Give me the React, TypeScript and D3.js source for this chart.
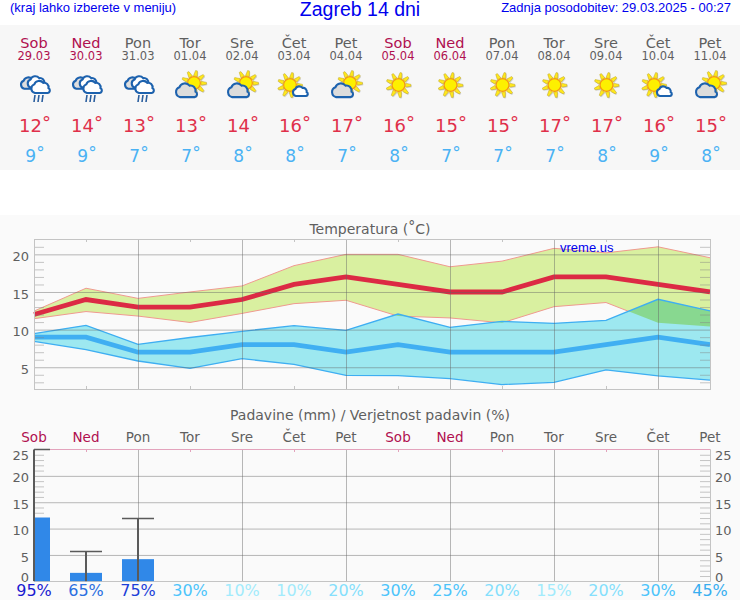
import { useEffect, useRef } from 'react'
import * as d3 from 'd3'

const dayNames = ['Sob', 'Ned', 'Pon', 'Tor', 'Sre', 'Čet', 'Pet', 'Sob', 'Ned', 'Pon', 'Tor', 'Sre', 'Čet', 'Pet']
const dates = ['29.03', '30.03', '31.03', '01.04', '02.04', '03.04', '04.04', '05.04', '06.04', '07.04', '08.04', '09.04', '10.04', '11.04']
const icons = ['rain', 'rain', 'rain', 'cloudsun', 'cloudsun', 'suncloud', 'cloudsun', 'sun', 'sun', 'sun', 'sun', 'sun', 'suncloud', 'cloudsun']

const tempHigh = [12, 14, 13, 13, 14, 16, 17, 16, 15, 15, 17, 17, 16, 15]
const tempLow = [9, 9, 7, 7, 8, 8, 7, 8, 7, 7, 7, 8, 9, 8]
const highTop = [12.46, 15.5, 14.15, 15, 15.8, 18.5, 20, 20, 18.35, 19.1, 20.8, 20.2, 21, 19.55]
const highBottom = [11.45, 12.4, 11.8, 10.95, 12.15, 13.45, 13.9, 11.8, 11.55, 10.9, 13.05, 13.6, 10.9, 10.4]
const lowTop = [9.47, 10.57, 8.05, 8.95, 9.77, 10.53, 9.9, 12.07, 10.3, 11.1, 10.84, 11.24, 14.03, 12.5]
const lowBottom = [8.44, 7.34, 5.83, 4.85, 6.14, 5.38, 3.92, 3.88, 3.5, 2.7, 3.0, 4.65, 3.85, 3.3]

const precip = [12.1, 1.6, 4.2]
const precipMax = [25, 5.65, 11.9]
const probability = [95, 65, 75, 30, 10, 10, 20, 30, 25, 20, 15, 20, 30, 45]

const tempTicks = [5, 10, 15, 20]
const rainTicks = [0, 5, 10, 15, 20, 25]

const FONT = '"DejaVu Sans", sans-serif'
const HEAD_FONT = '"Liberation Sans", Arial, sans-serif'
const WEEKEND = '#b0104f'
const GREY = '#5f5f5f'

const probColor = (p: number) => {
  if (p >= 90) return '#1a1ad0'
  if (p >= 70) return '#1c3fd8'
  if (p >= 60) return '#2a6fe0'
  if (p >= 45) return '#38aef0'
  if (p >= 25) return '#4cc4fa'
  if (p >= 20) return '#85dffc'
  return '#a2ebfc'
}

type Sel = d3.Selection<SVGGElement, unknown, null, undefined>

const CLOUD = 'M-8,6 a6,6 0 0 1 -1,-11.5 a7,7 0 0 1 12,-2 a6,6 0 0 1 7,7 a3.5,3.5 0 0 1 -1,6.5 z'

function drawCloud(g: Sel, x: number, y: number, s: number, fill: string) {
  g.append('path')
    .attr('d', CLOUD)
    .attr('transform', `translate(${x + 0.8},${y + 1}) scale(${s})`)
    .attr('fill', '#888')
    .attr('opacity', 0.3)
  g.append('path')
    .attr('d', CLOUD)
    .attr('transform', `translate(${x},${y}) scale(${s})`)
    .attr('fill', fill)
    .attr('stroke', '#1f62ae')
    .attr('stroke-width', 2.1 / s)
}

function drawSun(g: Sel, x: number, y: number) {
  const sun = g.append('g').attr('transform', `translate(${x},${y})`)
  d3.range(9).forEach((i) => {
    const a = (i * 2 * Math.PI) / 9 - Math.PI / 2 + 0.2
    const c = Math.cos(a)
    const s = Math.sin(a)
    const pts = [
      [7 * c - 2 * s, 7 * s + 2 * c],
      [12.5 * c - 0.9 * s, 12.5 * s + 0.9 * c],
      [12.5 * c + 0.9 * s, 12.5 * s - 0.9 * c],
      [7 * c + 2 * s, 7 * s - 2 * c],
    ]
    sun.append('polygon')
      .attr('points', pts.map((p) => `${p[0] + 0.8},${p[1] + 1}`).join(' '))
      .attr('fill', '#777')
      .attr('opacity', 0.3)
    sun.append('polygon')
      .attr('points', pts.map((p) => p.join(',')).join(' '))
      .attr('fill', '#ffe81a')
      .attr('stroke', '#b8a030')
      .attr('stroke-width', 0.5)
  })
  sun.append('circle')
    .attr('r', 6.4)
    .attr('fill', '#fdf000')
    .attr('stroke', '#f59a10')
    .attr('stroke-width', 1.2)
}

function drawIcon(g: Sel, kind: string) {
  if (kind === 'sun') {
    drawSun(g, 0.5, -1)
  } else if (kind === 'cloudsun') {
    drawSun(g, 4, -3)
    drawCloud(g, -3, 6, 0.85, '#dcdcdc')
  } else if (kind === 'suncloud') {
    drawSun(g, -4, -1)
    drawCloud(g, 6.7, 6.4, 0.6, '#ffffff')
  } else {
    drawCloud(g, -4, -1.5, 0.7, '#dedede')
    drawCloud(g, 3, -2.5, 0.72, '#ffffff')
    drawCloud(g, 7, 2.5, 0.75, '#ffffff')
    d3.range(3).forEach((i) => {
      g.append('line')
        .attr('x1', 1 + i * 4)
        .attr('x2', 0 + i * 4)
        .attr('y1', 9)
        .attr('y2', 16)
        .attr('stroke', '#2a5f9e')
        .attr('stroke-width', 1.6)
    })
  }
}

export default function App() {
  const svgRef = useRef<SVGSVGElement>(null)

  useEffect(() => {
    if (!svgRef.current) return
    const svg = d3.select(svgRef.current)
    svg.selectAll('*').remove()

    const days = d3.range(dayNames.length)
    const x = d3.scaleLinear().domain([0, 13]).range([34, 710])
    const yT = d3.scaleLinear().domain([2.07, 22]).range([389.3, 239.3])
    const yR = d3.scaleLinear().domain([0, 25]).range([581.3, 449.5])

    // Slight softening, the icons are scaled bitmaps in the original
    svg.append('filter').attr('id', 'soft').append('feGaussianBlur').attr('stdDeviation', 0.3)

    // Backgrounds
    svg.append('rect').attr('width', 740).attr('height', 600).attr('fill', '#ffffff')
    svg.append('rect').attr('y', 25).attr('width', 740).attr('height', 145).attr('fill', '#f7f7f7')
    svg.append('rect').attr('y', 215).attr('width', 740).attr('height', 385).attr('fill', '#fafafa')

    // Header
    svg.append('text').attr('x', 10).attr('y', 12).attr('fill', '#0000ee')
      .style('font', `13px ${HEAD_FONT}`).text('(kraj lahko izberete v meniju)')
    svg.append('text').attr('x', 360).attr('y', 16).attr('text-anchor', 'middle').attr('fill', '#0000ee')
      .style('font', `19.5px ${HEAD_FONT}`).text('Zagreb 14 dni')
    svg.append('text').attr('x', 731).attr('y', 12).attr('text-anchor', 'end').attr('fill', '#0000ee')
      .style('font', `13px ${HEAD_FONT}`).text('Zadnja posodobitev: 29.03.2025 - 00:27')

    // Daily strip
    const isWeekend = (i: number) => dayNames[i] === 'Sob' || dayNames[i] === 'Ned'
    days.forEach((i) => {
      const cx = x(i)
      svg.append('text').attr('x', cx).attr('y', 48).attr('text-anchor', 'middle')
        .attr('fill', isWeekend(i) ? WEEKEND : GREY)
        .style('font', `14.5px ${FONT}`).text(dayNames[i])
      svg.append('text').attr('x', cx).attr('y', 60).attr('text-anchor', 'middle')
        .attr('fill', isWeekend(i) ? WEEKEND : GREY)
        .style('font', `11.5px ${FONT}`).text(dates[i])

      const icon = svg.append('g').attr('transform', `translate(${cx},86)`).attr('filter', 'url(#soft)') as unknown as Sel
      drawIcon(icon, icons[i])

      const hi = svg.append('text').attr('x', cx + 1).attr('y', 132).attr('text-anchor', 'middle')
        .attr('fill', '#e0304a').style('font', `18px ${FONT}`)
      hi.append('tspan').text(tempHigh[i])
      hi.append('tspan').attr('dy', -3).text('°')
      const lo = svg.append('text').attr('x', cx + 1).attr('y', 162).attr('text-anchor', 'middle')
        .attr('fill', '#4ab2f4').style('font', `17px ${FONT}`)
      lo.append('tspan').text(tempLow[i])
      lo.append('tspan').attr('dy', -3).text('°')
    })

    // Temperature chart
    const title = svg.append('text').attr('x', 370).attr('y', 234).attr('text-anchor', 'middle')
      .attr('fill', GREY).style('font', `14px ${FONT}`)
    title.append('tspan').text('Temperatura (')
    title.append('tspan').attr('dy', -3).text('°')
    title.append('tspan').attr('dy', 3).text('C)')

    const band = (top: number[], bottom: number[]) =>
      d3.area<number>().x((i) => x(i)).y0((i) => yT(bottom[i])).y1((i) => yT(top[i]))
    const edge = (vals: number[]) => d3.line<number>().x((i) => x(i)).y((i) => yT(vals[i]))

    svg.append('clipPath').attr('id', 'low-band').append('path').attr('d', band(lowTop, lowBottom)(days))

    const chart = svg.append('g')
    chart.append('path').attr('d', band(highTop, highBottom)(days)).attr('fill', '#d9f0a0')
    chart.append('path').attr('d', edge(highTop)(days)).attr('fill', 'none').attr('stroke', '#f09a90').attr('stroke-width', 1)
    chart.append('path').attr('d', edge(highBottom)(days)).attr('fill', 'none').attr('stroke', '#f09a90').attr('stroke-width', 1)
    chart.append('path').attr('d', band(lowTop, lowBottom)(days)).attr('fill', '#9de8f0')
    chart.append('path').attr('d', band(highTop, highBottom)(days)).attr('fill', '#88d890').attr('clip-path', 'url(#low-band)')
    chart.append('path').attr('d', edge(lowTop)(days)).attr('fill', 'none').attr('stroke', '#3eaef2').attr('stroke-width', 1.3)
    chart.append('path').attr('d', edge(lowBottom)(days)).attr('fill', 'none').attr('stroke', '#3eaef2').attr('stroke-width', 1.3)

    const styleAxis = (g: d3.Selection<SVGGElement, unknown, null, undefined>, color: string) => {
      g.select('.domain').remove()
      g.selectAll('line').attr('stroke', color)
      g.selectAll('text').attr('fill', GREY).style('font', `13px ${FONT}`)
    }
    const GRID = 'rgba(100,100,100,0.45)'
    const MINOR = 'rgba(130,130,130,0.45)'

    const w = x.range()[1] - x.range()[0]
    const plotT = svg.append('g')
    // Horizontal grid
    plotT.append('g').attr('transform', `translate(34,0)`)
      .call(d3.axisLeft(yT).tickValues(tempTicks).tickSize(-w).tickPadding(5))
      .call(styleAxis, GRID)
      .selectAll('text').attr('y', 2)
    // Minor ticks
    const tempMinor = d3.range(3, 22).filter((v) => v % 5 !== 0)
    plotT.append('g').attr('transform', 'translate(34,0)')
      .call(d3.axisLeft(yT).tickValues(tempMinor).tickSize(-10).tickFormat(() => ''))
      .call(styleAxis, MINOR)
    plotT.append('g').attr('transform', 'translate(710,0)')
      .call(d3.axisRight(yT).tickValues(tempMinor).tickSize(-10).tickFormat(() => ''))
      .call(styleAxis, MINOR)
    // Vertical grid, every second day
    const evenDays = days.filter((i) => i % 2 === 0 && i > 0 && i < 13)
    const oddDays = days.filter((i) => i % 2 === 1 && i < 13)
    plotT.append('g').attr('transform', 'translate(0,389)')
      .call(d3.axisBottom(x).tickValues(evenDays).tickSize(-150).tickFormat(() => ''))
      .call(styleAxis, GRID)
    plotT.append('g').attr('transform', 'translate(0,389)')
      .call(d3.axisBottom(x).tickValues(oddDays).tickSize(-3).tickFormat(() => ''))
      .call(styleAxis, MINOR)
    plotT.append('g').attr('transform', 'translate(0,239)')
      .call(d3.axisTop(x).tickValues(oddDays).tickSize(-3).tickFormat(() => ''))
      .call(styleAxis, MINOR)
    svg.append('rect').attr('x', 34.5).attr('y', 239.5).attr('width', w).attr('height', 150)
      .attr('fill', 'none').attr('stroke', '#c4c4c4').attr('stroke-width', 1)

    // Mean lines
    chart.append('path').attr('d', edge(tempLow)(days)).attr('fill', 'none').attr('stroke', '#40aff2').attr('stroke-width', 4.8)
    chart.append('path').attr('d', edge(tempHigh)(days)).attr('fill', 'none').attr('stroke', '#dc2a44').attr('stroke-width', 4.8)

    svg.append('text').attr('x', 560).attr('y', 252).attr('fill', '#0000ee')
      .style('font', `13px ${HEAD_FONT}`).text('vreme.us')

    // Precipitation chart
    svg.append('text').attr('x', 370).attr('y', 420).attr('text-anchor', 'middle')
      .attr('fill', GREY).style('font', `14px ${FONT}`).text('Padavine (mm) / Verjetnost padavin (%)')
    days.forEach((i) => {
      svg.append('text').attr('x', x(i)).attr('y', 442).attr('text-anchor', 'middle')
        .attr('fill', isWeekend(i) ? WEEKEND : GREY)
        .style('font', `13.5px ${FONT}`).text(dayNames[i])
      svg.append('text').attr('x', x(i)).attr('y', 596).attr('text-anchor', 'middle')
        .attr('fill', probColor(probability[i]))
        .style('font', `16px ${FONT}`).text(`${probability[i]}%`)
    })

    const rainLabelShift = (d: number) => (d === 25 ? 5.6 : d === 0 ? -4.1 : 1.9)
    const plotR = svg.append('g')
    const rainGrid = rainTicks.slice(1, -1)
    plotR.append('g').attr('transform', 'translate(34,0)')
      .call(d3.axisLeft(yR).tickValues(rainGrid).tickSize(-w).tickFormat(() => ''))
      .call(styleAxis, GRID)
    plotR.append('g').attr('transform', 'translate(0,581)')
      .call(d3.axisBottom(x).tickValues(evenDays).tickSize(-132).tickFormat(() => ''))
      .call(styleAxis, GRID)
    plotR.append('g').attr('transform', 'translate(0,449)')
      .call(d3.axisTop(x).tickValues(oddDays).tickSize(-3).tickFormat(() => ''))
      .call(styleAxis, '#e3a3bc')
    const rainMinor = d3.range(1, 25).filter((v) => v % 5 !== 0)
    plotR.append('g').attr('transform', 'translate(34,0)')
      .call(d3.axisLeft(yR).tickValues(rainMinor).tickSize(-10).tickFormat(() => ''))
      .call(styleAxis, MINOR)
    plotR.append('g').attr('transform', 'translate(710,0)')
      .call(d3.axisRight(yR).tickValues(rainMinor).tickSize(-10).tickFormat(() => ''))
      .call(styleAxis, MINOR)
    // Axis labels only, clear of the frame
    plotR.append('g').attr('transform', 'translate(34,0)')
      .call(d3.axisLeft(yR).tickValues(rainTicks).tickSize(0).tickPadding(5))
      .call(styleAxis, 'none')
      .selectAll<SVGTextElement, number>('text').attr('y', rainLabelShift)
    plotR.append('g').attr('transform', 'translate(710,0)')
      .call(d3.axisRight(yR).tickValues(rainTicks).tickSize(0).tickPadding(5))
      .call(styleAxis, 'none')
      .selectAll<SVGTextElement, number>('text').attr('y', rainLabelShift)

    svg.append('line').attr('x1', 34).attr('x2', 710.5).attr('y1', 449.5).attr('y2', 449.5).attr('stroke', '#e3a3bc')
    svg.append('line').attr('x1', 34).attr('x2', 710.5).attr('y1', 581.5).attr('y2', 581.5).attr('stroke', '#c4c4c4')
    svg.append('line').attr('x1', 710.5).attr('x2', 710.5).attr('y1', 449.5).attr('y2', 581.5).attr('stroke', '#c4c4c4')

    svg.append('clipPath').attr('id', 'rain-plot').append('rect')
      .attr('x', 33).attr('y', 440).attr('width', 680).attr('height', 141.5)
    const bars = svg.append('g').attr('clip-path', 'url(#rain-plot)')
    bars.selectAll('rect').data(precip).join('rect')
      .attr('x', (_, i) => Math.max(x(i) - 16, 34))
      .attr('width', (_, i) => x(i) + 16 - Math.max(x(i) - 16, 34))
      .attr('y', (d) => yR(d))
      .attr('height', (d) => yR(0) - yR(d))
      .attr('fill', '#3088e8')
    precipMax.forEach((v, i) => {
      bars.append('line').attr('x1', x(i)).attr('x2', x(i)).attr('y1', yR(v)).attr('y2', yR(0))
        .attr('stroke', '#5a5a5a').attr('stroke-width', 2)
      bars.append('line').attr('x1', Math.max(x(i) - 16, 34)).attr('x2', x(i) + 16).attr('y1', yR(v)).attr('y2', yR(v))
        .attr('stroke', '#5a5a5a').attr('stroke-width', 1.5)
    })
  }, [])

  return (
    <svg
      ref={svgRef}
      width={740}
      height={600}
      style={{ position: 'absolute', left: 0, top: 0, display: 'block' }}
    />
  )
}
